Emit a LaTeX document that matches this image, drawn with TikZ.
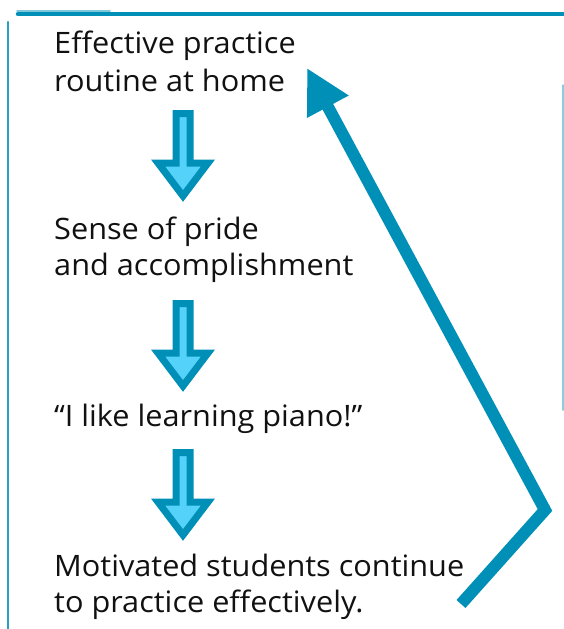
\documentclass[tikz,border=0pt]{standalone}
\usepackage{fontspec}
\setmainfont[FakeStretch=1.04]{Open Sans}
\usetikzlibrary{arrows.meta,calc}
\definecolor{teal1}{RGB}{0,143,183}
\definecolor{light1}{RGB}{84,210,250}
\definecolor{ink}{RGB}{17,17,17}
\tikzset{
  txt/.style={anchor=base west,inner sep=0pt,text=ink,font=\fontsize{29.5}{36}\selectfont},
  blockarr/.style={draw=teal1,fill=light1,line width=7pt,line join=miter},
  loop/.style={draw=teal1,line width=12pt,line join=miter,-{Triangle[length=44pt,width=44pt]}},
  frame/.style={draw=teal1,line cap=round}
}
\newcommand{\blockdown}[2]{%
  \path[blockarr] (#1-7,#2+3.5) -- (#1+7,#2+3.5) -- (#1+7,#2+53) -- (#1+25,#2+53)
    -- (#1,#2+86) -- (#1-25,#2+53) -- (#1-7,#2+53) -- cycle;}
\begin{document}
\begin{tikzpicture}[x=1pt,y=-1pt]
\useasboundingbox (0,0) rectangle (564,629);
% frame
\draw[frame,line width=4.5pt] (18,14) -- (564,14);
\draw[frame,line width=1.5pt,opacity=0.5] (17,11) -- (110,11);
\draw[frame,line width=2.5pt,opacity=0.85] (8,22) -- (8,629);
\draw[frame,line width=1.5pt,opacity=0.45] (563,85) -- (563,410);
% texts
\node[txt] (t1a) at (54,53) {Effective practice};
\node[txt] (t1b) at (54,91) {routine at home};
\node[txt] (t2a) at (54,239) {Sense of pride};
\node[txt] (t2b) at (54,275) {and accomplishment};
\node[txt] (t3) at (54,426) {“I like learning piano!”};
\node[txt] (t4a) at (54,576) {Motivated students continue};
\node[txt] (t4b) at (54,612) {to practice effectively.};
% block arrows
\blockdown{183}{110}
\blockdown{183}{300}
\blockdown{183}{449}
% loop arrow
\coordinate (ls) at (461,604);
\coordinate (lc) at (545,510);
\coordinate (le) at (307,68);
\draw[loop] (ls) -- (lc) -- (le);
\end{tikzpicture}
\end{document}
